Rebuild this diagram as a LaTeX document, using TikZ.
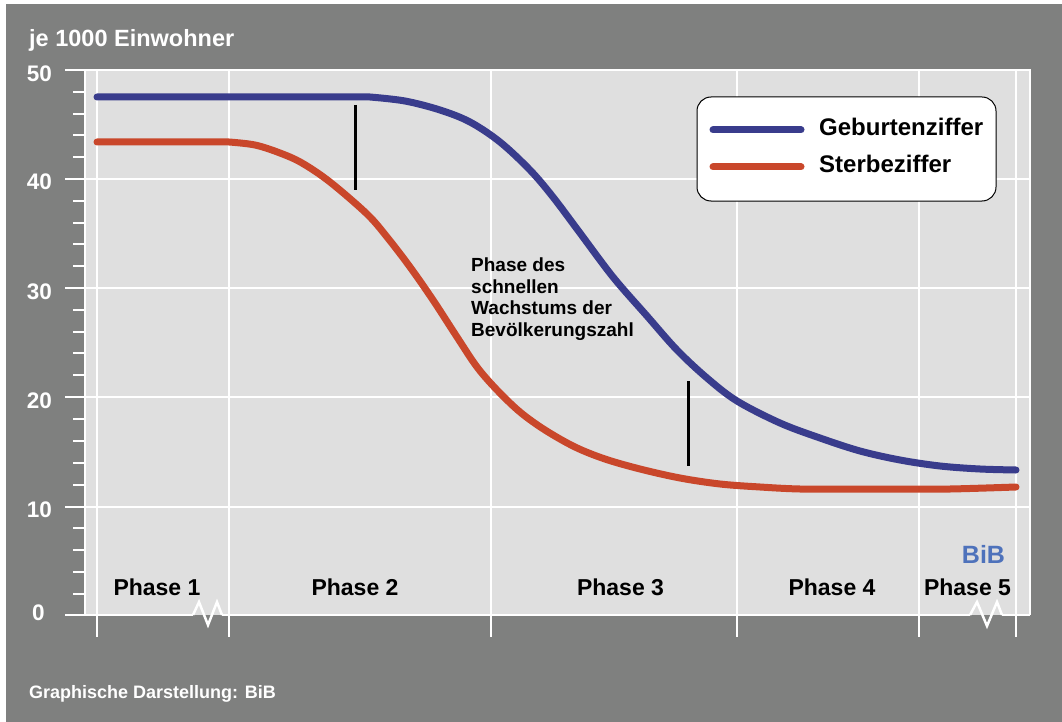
\documentclass[tikz,border=0pt]{standalone}
\usepackage{fontspec}
\setmainfont{Liberation Sans}
\definecolor{bggray}{RGB}{127,128,127}
\definecolor{plotbg}{RGB}{223,223,223}
\definecolor{birthblue}{RGB}{57,60,140}
\definecolor{deathred}{RGB}{201,71,43}
\definecolor{bibblue}{RGB}{78,114,187}
\begin{document}
\begin{tikzpicture}[x=1pt,y=-1pt,
  grid/.style={white,line width=1.5pt},
  frame/.style={white,line width=2.5pt},
  tick/.style={white,line width=2.5pt},
  curve/.style={line width=7pt,line cap=round,line join=round},
  marker/.style={black,line width=3pt},
  axlab/.style={font=\bfseries\fontsize{22.5}{22.5}\selectfont,text=white,anchor=base,inner sep=0pt},
  phaselab/.style={font=\bfseries\fontsize{23}{23}\selectfont,text=black,anchor=base,inner sep=0pt},
  legtext/.style={font=\bfseries\fontsize{24}{24}\selectfont,text=black,anchor=base west,inner sep=0pt}]
\useasboundingbox (0,0) rectangle (1062,722);
\fill[white] (0,0) rectangle (1062,722);
\fill[bggray] (6,4) rectangle (1062,722);
% plot area
\fill[plotbg] (85,70) rectangle (1030,615);
% grid
\foreach \yy in {179,288,397,507} \draw[grid] (85,\yy) -- (1030,\yy);
\foreach \xx in {97,229,491,737,919,1016} \draw[grid] (\xx,70) -- (\xx,615);
% frame
\draw[frame] (65,70) -- (1030,70) -- (1030,615);
\draw[frame] (85,70) -- (85,615);
\draw[frame] (65,615) -- (193,615);
\draw[frame] (222,615) -- (970,615);
\draw[frame] (1002,615) -- (1030,615);
% zigzags
\draw[white,line width=2.5pt,line join=miter] (193,615) -- (199,602) -- (208,625) -- (217,602) -- (222,615);
\draw[white,line width=2.5pt,line join=miter] (970,615) -- (977,602) -- (987,626) -- (997,602) -- (1002,615);
% y ticks
\foreach \yy in {70,179,288,397,507,615} \draw[tick] (65,\yy) -- (85,\yy);
\foreach \yy in {92,114,135,157,201,223,244,266,310,332,353,375,419,441,463,485,528,550,572,594} \draw[tick] (73,\yy) -- (85,\yy);
% x ticks
\foreach \xx in {97,229,491,737,919,1016} \draw[tick] (\xx,615) -- (\xx,637);
% y labels
\node[axlab] (l50) at (39.5,82) {50};
\node[axlab] (l40) at (39.5,189.5) {40};
\node[axlab] (l30) at (39.5,299) {30};
\node[axlab] (l20) at (39.5,408) {20};
\node[axlab] (l10) at (39.5,517.5) {10};
\node[axlab] (l0) at (38.5,620.5) {0};
\node[font=\bfseries\fontsize{23.5}{23.5}\selectfont,text=white,anchor=base west,inner sep=0pt] (ylab) at (29,47) {je 1000 Einwohner};
% curves
\draw[curve,birthblue] (97,97) -- (370,97) plot[smooth,tension=0.55] coordinates {(370,97) (405,101) (440,110) (470,122) (500,142) (530,170) (553,197) (580,233) (613,277) (647,316) (677,350) (707,378) (737,401) (780,423) (820,438) (860,451) (900,460) (940,466) (980,469) (1016,470)};
\draw[curve,deathred] (97,142) -- (229,142) plot[smooth,tension=0.55] coordinates {(229,142) (255,145) (280,153) (302,163) (330,182) (367,214) (387,237) (410,267) (433,300) (457,337) (477,367) (497,390) (520,412) (545,430) (575,447) (605,459) (640,469) (680,478) (720,484) (760,487) (800,489) (850,489) (900,489) (950,489) (1016,487)};
% markers
\coordinate (m1a) at (355,105); \coordinate (m1b) at (355,190);
\coordinate (m2a) at (688,381); \coordinate (m2b) at (688,466);
\draw[marker] (m1a) -- (m1b);
\draw[marker] (m2a) -- (m2b);
% middle text
\node[font=\bfseries\fontsize{19}{21.5}\selectfont,align=left,anchor=north west,inner sep=0pt] (phasetext) at (471,258) {Phase des\\schnellen\\Wachstums der\\Bevölkerungszahl};
% phase labels
\node[phaselab] (p1) at (157,595) {Phase 1};
\node[phaselab] (p2) at (355,595) {Phase 2};
\node[phaselab] (p3) at (620.5,595) {Phase 3};
\node[phaselab] (p4) at (832,595) {Phase 4};
\node[phaselab] (p5) at (967.5,595) {Phase 5};
\node[font=\bfseries\fontsize{25}{25}\selectfont,text=bibblue,anchor=base,inner sep=0pt] (bib) at (983.5,563) {BiB};
% legend
\draw[black,line width=1pt,fill=white,rounded corners=14pt] (697,97) rectangle (996,201);
\coordinate (lb1) at (713,130); \coordinate (lb2) at (801,130);
\coordinate (lr1) at (713,167); \coordinate (lr2) at (801,167);
\draw[curve,birthblue] (lb1) -- (lb2);
\draw[curve,deathred] (lr1) -- (lr2);
\node[legtext] (lg1) at (819,136) {Geburtenziffer};
\node[legtext] (lg2) at (819,173) {Sterbeziffer};
% credit
\node[font=\bfseries\fontsize{18}{18}\selectfont,text=white,anchor=base west,inner sep=0pt] (credit) at (29,698) {Graphische Darstellung: BiB};
\end{tikzpicture}
\end{document}
